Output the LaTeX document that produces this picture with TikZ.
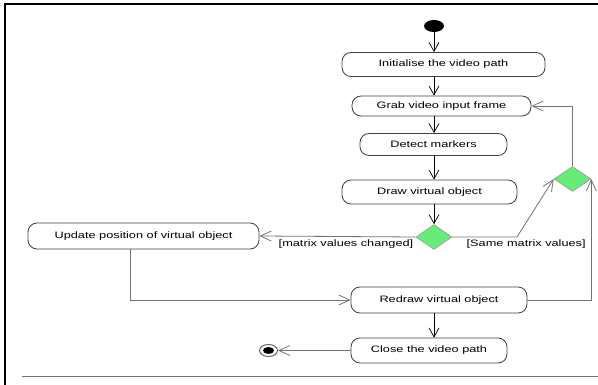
\documentclass[tikz,border=0pt]{standalone}
\usepackage{fontspec}
\setmainfont{Liberation Sans}[FakeStretch=1.37]
\usetikzlibrary{shapes.geometric}
\usetikzlibrary{arrows.meta}

\definecolor{decgreen}{RGB}{104,236,120}

\tikzset{
  action/.style={draw=black!75, line width=0.8pt, rounded corners=9pt,
    minimum height=24pt, inner sep=0pt, font=\fontsize{9.3}{11}\selectfont},
  decision/.style={diamond, draw=black!40, fill=decgreen, line width=0.6pt,
    minimum width=36pt, minimum height=25pt, inner sep=0pt},
  flow/.style={draw=black, line width=0.7pt, -{Straight Barb[length=9pt,width=10pt]}},
  back/.style={draw=black!55, line width=0.8pt, -{Straight Barb[length=11pt,width=10pt]}},
  guard/.style={font=\fontsize{9.3}{11}\selectfont, inner sep=1pt}
}

\begin{document}
\begin{tikzpicture}[x=1pt, y=-1pt]
  \useasboundingbox (0,0) rectangle (598,385);
  % frame
  \draw[line width=2.2pt] (5,385) -- (5,4) -- (598,4);
  \draw[black!55, line width=1pt] (22,376) -- (598,376);

  % activities
  \node[fill=black, ellipse, minimum width=20pt, minimum height=12pt, inner sep=0pt] (start) at (434,26) {};
  \node[action, minimum width=203pt] (init) at (443.5,64.5) {Initialise the video path};
  \node[action, minimum width=179pt, minimum height=20pt] (grab) at (441.5,106) {Grab video input frame};
  \node[action, minimum width=147pt, minimum height=22pt] (detect) at (433.5,144.5) {Detect markers};
  \node[action, minimum width=175pt] (drawobj) at (429.5,192) {Draw virtual object};
  \node[decision] (check) at (434,237) {};
  \node[decision, minimum width=37pt] (same) at (572.5,179) {};
  \node[action, minimum width=231pt, minimum height=26pt] (update) at (143.5,236) {Update position of virtual object};
  \node[action, minimum width=176pt, minimum height=26pt] (redraw) at (439,300) {Redraw virtual object};
  \node[action, minimum width=156pt, minimum height=25pt] (close) at (429,350.5) {Close the video path};
  \node[ellipse, draw=black!60, line width=1pt, minimum width=18pt, minimum height=12pt, inner sep=0pt] (stop) at (268.5,350.5) {};
  \fill (stop) ellipse [x radius=5.5pt, y radius=3.5pt];

  \coordinate (kink) at (517,237);

  % main flow
  \draw[flow] (start) -- (init.north -| start);
  \draw[flow] (init.south -| start) -- (grab.north -| start);
  \draw[flow] (grab.south -| start) -- (detect.north -| start);
  \draw[flow] (detect.south -| start) -- (drawobj.north -| start);
  \draw[flow] (drawobj.south -| start) -- (check.north);
  \draw[flow] (redraw.south -| start) -- (close.north -| start);

  % branches and loops
  \draw[back] (check.west) -- (update.east)
    node[guard, pos=0, anchor=north east, xshift=-1pt, yshift=-1pt] {[matrix values changed]};
  \draw[back] (check.east)
    -- node[guard, pos=0, anchor=north west, xshift=13pt, yshift=-1pt] {[Same matrix values]} (kink)
    -- (same.west);
  \draw[back] (redraw.east) -| (same.east);
  \draw[back] (same.north) |- (grab.east);
  \draw[back] ([xshift=-13pt]update.south) |- (redraw.west);
  \draw[back] (close.west) -- (stop);
\end{tikzpicture}
\end{document}
